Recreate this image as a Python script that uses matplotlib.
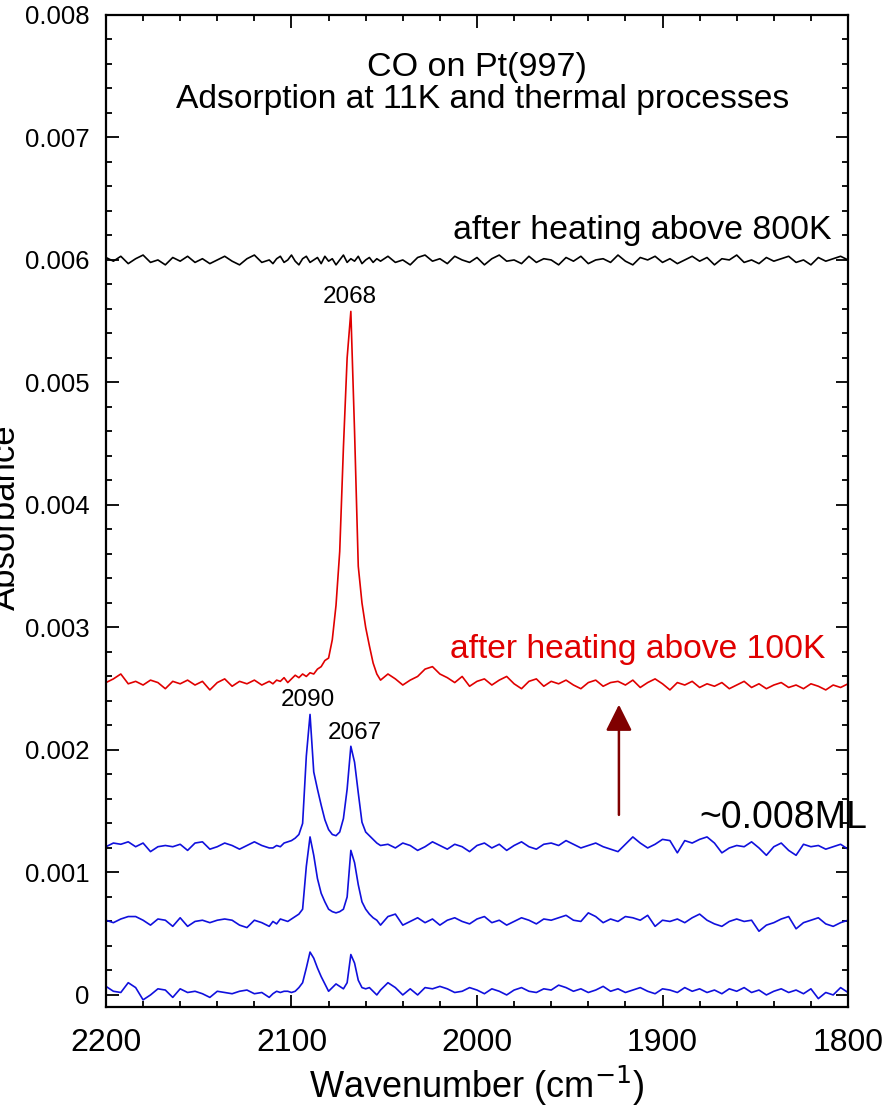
import numpy as np
import matplotlib
matplotlib.use("Agg")
from matplotlib import pyplot as plt
from matplotlib.ticker import MultipleLocator

plt.rcParams['font.family'] = ['Liberation Sans', 'DejaVu Sans']

# wavenumber grid: coarse on the wings, finer across the CO peaks
wn = np.concatenate([np.arange(2200, 2111, -4),
                     np.arange(2110, 2051, -2),
                     np.arange(2048, 1799, -4)])

# absorbance, in units of 1e-5
blue_low = [7, 3, 2, 10, 6, -4, 0, 5, 4, -2, 5, 2, 3, 1, -2, 3, 2, 1, 3, 4, 1, 2, -2,
            1, 3, 2, 3, 3, 2, 3, 6, 10, 22, 35, 30, 22, 15, 9, 3, 6, 9, 7, 5, 10, 33, 26, 12, 6, 5, 6, 3, 0, 4,
            10, 6, 0, 5, 0, 6, 5, 7, 5, 2, 3, 6, 4, 1, 5, 3, 0, 4, 6, 3, 2, 5, 4, 8, 6, 3,
            5, 2, 4, 7, 3, 5, 2, 4, 6, 3, 1, 5, 4, 2, 6, 3, 5, 2, 4, 1, 5, 3, 6, 2, 4, 0,
            3, 5, 2, 4, 1, 5, -3, 2, 0, 6, 2]
blue_mid = [61, 59, 62, 64, 64, 61, 57, 62, 61, 56, 63, 56, 60, 61, 59, 61, 62, 61, 57, 55, 61, 59, 56,
            60, 58, 62, 61, 60, 62, 64, 66, 70, 105, 129, 114, 95, 83, 76, 70, 68, 67, 68, 70, 80, 118, 108,
            90, 76, 70, 66, 63, 61, 57,
            64, 66, 57, 60, 63, 59, 62, 57, 61, 63, 60, 58, 62, 64, 59, 61, 57, 60, 63, 61, 58, 62,
            61, 63, 65, 61, 60, 67, 64, 59, 62, 60, 64, 63, 61, 65, 56, 61, 60, 62, 59, 63, 66, 61,
            58, 56, 60, 62, 60, 61, 52, 57, 59, 62, 64, 54, 59, 61, 63, 58, 56, 59, 61]
blue_top = [121, 124, 123, 125, 121, 124, 117, 121, 122, 121, 123, 118, 124, 125, 119, 121, 124, 122,
            119, 122, 125, 122, 120,
            120, 122, 121, 124, 125, 126, 128, 131, 140, 195, 229, 182, 168, 155, 143, 135, 131, 130, 133,
            144, 168, 203, 190, 165, 141, 133, 130, 127, 124, 122,
            123, 120, 124, 122, 118, 121, 125, 122, 119, 123, 121, 117, 122, 124, 120, 123, 118, 122,
            125, 121, 119, 123, 124, 122, 126, 123, 120, 122, 124, 121, 119, 117, 123, 129, 124, 120,
            123, 127, 126, 116, 126, 124, 127, 129, 124, 116, 120, 122, 121, 125, 120, 114, 121, 124,
            118, 114, 123, 121, 122, 119, 121, 123, 119]
red_100K = [255, 258, 262, 254, 256, 253, 257, 255, 250, 256, 254, 257, 253, 256, 249, 255, 258, 252,
            256, 254, 257, 253, 256,
            254, 257, 256, 259, 255, 258, 261, 259, 262, 260, 263, 262, 266, 268, 273, 275, 290, 318, 362,
            447, 520, 558, 460, 350, 320, 300, 285, 271, 262, 257,
            262, 258, 253, 257, 260, 266, 268, 262, 259, 255, 260, 252, 256, 258, 253, 257, 260, 254,
            250, 256, 258, 252, 256, 254, 257, 253, 250, 255, 257, 252, 255, 256, 253, 257, 251, 255,
            258, 254, 249, 255, 253, 256, 251, 254, 252, 255, 250, 253, 256, 251, 254, 250, 253, 255,
            251, 253, 250, 254, 252, 249, 253, 251, 254]
black_800K = [602, 599, 603, 597, 601, 604, 598, 600, 596, 602, 599, 603, 598, 601, 597, 600, 603, 599,
              596, 601, 604, 598, 600,
              597, 601, 603, 598, 600, 604, 599, 596, 601, 603, 598, 600, 602, 597, 603, 599, 601, 596,
              600, 604, 598, 601, 599, 603, 597, 600, 602, 598, 601, 599,
              603, 598, 600, 596, 602, 604, 599, 601, 597, 603, 600, 598, 602, 596, 601, 604, 599, 600,
              597, 603, 598, 601, 600, 596, 602, 599, 603, 597, 600, 601, 598, 604, 599, 596, 602, 600,
              603, 598, 601, 597, 600, 603, 599, 602, 596, 601, 600, 604, 598, 600, 597, 602, 599, 601,
              603, 598, 600, 596, 602, 599, 601, 603, 600]

peak_labels = ["2068", "2090", "2067"]
peak_pos = [(2068.5, 0.0057), (2091, 0.00241), (2066, 0.00214)]
ytick_vals = [0, 0.001, 0.002, 0.003, 0.004, 0.005, 0.006, 0.007, 0.008]
ytick_text = ["0", "0.001", "0.002", "0.003", "0.004", "0.005", "0.006", "0.007", "0.008"]
xtick_vals = [2200, 2100, 2000, 1900, 1800]

fig = plt.figure(figsize=(8.89, 11.08), dpi=100)
ax = fig.add_axes([0.1192, 0.0912, 0.8347, 0.8953])

for ys, col in [(blue_low, '#1010dd'), (blue_mid, '#1010dd'), (blue_top, '#1010dd'),
                (red_100K, '#e00000'), (black_800K, 'black')]:
    assert len(ys) == len(wn)
    ax.plot(wn, np.array(ys) * 1e-5, color=col, lw=1.2)

ax.set_xlim(2200, 1800)
ax.set_ylim(-0.000098, 0.008)
ax.set_xticks(xtick_vals)
ax.xaxis.set_minor_locator(MultipleLocator(20))
ax.set_yticks(ytick_vals)
ax.set_yticklabels(ytick_text)
ax.yaxis.set_minor_locator(MultipleLocator(0.0002))
ax.tick_params(which='both', direction='in', top=True, right=True, width=1.3)
ax.tick_params(which='major', length=9)
ax.tick_params(which='minor', length=4.5)
ax.tick_params(axis='y', labelsize=18.5, pad=12)
ax.tick_params(axis='x', labelsize=23, pad=15)
for s in ax.spines.values():
    s.set_linewidth(1.6)

ax.set_xlabel("Wavenumber (cm$^{-1}$)", fontsize=26, labelpad=4)
ax.set_ylabel("Absorbance", fontsize=25)
ax.yaxis.set_label_coords(-0.113, 0.494)

ax.text(2000, 0.00757, "CO on Pt(997)", fontsize=24.5, ha='center', va='center')
ax.text(1997, 0.00731, "Adsorption at 11K and thermal processes", fontsize=24.2, ha='center', va='center')
ax.text(1809, 0.00624, "after heating above 800K", fontsize=24.4, ha='right', va='center')
ax.text(1812, 0.00282, "after heating above 100K", fontsize=24.2, ha='right', va='center', color='#e00000')
ax.text(1880, 0.001445, "~0.008ML", fontsize=27, ha='left', va='center', clip_on=False)
for lab, (px, py) in zip(peak_labels, peak_pos):
    ax.text(px, py, lab, fontsize=17.5, ha='center', va='center')

ax.annotate('', xy=(1923.5, 0.00237), xytext=(1923.5, 0.00147),
            arrowprops=dict(arrowstyle='-|>,head_length=0.8,head_width=0.4',
                            color='#800000', lw=1.8, mutation_scale=20, shrinkA=0, shrinkB=0))

fig.savefig("out.png", dpi=100)
